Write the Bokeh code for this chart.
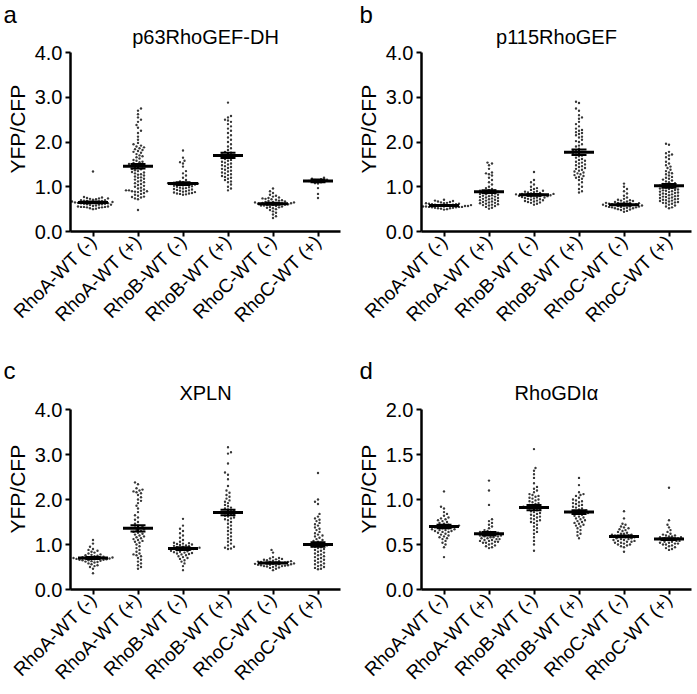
import math
from bokeh.plotting import figure
from bokeh.models import Range1d, FixedTicker, Title, PrintfTickFormatter
from bokeh.layouts import column, row
from bokeh.embed import file_html
from bokeh.resources import INLINE

categories = ["RhoA-WT (-)", "RhoA-WT (+)", "RhoB-WT (-)", "RhoB-WT (+)", "RhoC-WT (-)", "RhoC-WT (+)"]

# ---------------- panel a : p63RhoGEF-DH ----------------
a_title = "p63RhoGEF-DH"
a_A_minus = [1.34, 0.77, 0.76, 0.75, 0.74, 0.74, 0.73, 0.72, 0.71, 0.70, 0.70, 0.69, 0.68, 0.68, 0.67, 0.67, 0.66, 0.66, 0.65, 0.65, 0.64, 0.64, 0.63, 0.63, 0.62, 0.62, 0.61, 0.61, 0.60, 0.60, 0.59, 0.58, 0.57, 0.56, 0.56, 0.55, 0.55, 0.55, 0.54, 0.54, 0.53, 0.52, 0.51, 0.50]
a_A_plus = [2.75, 2.70, 2.62, 2.55, 2.50, 2.45, 2.38, 2.32, 2.25, 2.20, 2.12, 2.05, 1.98, 1.95, 1.92, 1.90, 1.88, 1.86, 1.84, 1.82, 1.80, 1.78, 1.76, 1.73, 1.70, 1.68, 1.66, 1.63, 1.60, 1.58, 1.56, 1.55, 1.53, 1.51, 1.50, 1.48, 1.47, 1.46, 1.45, 1.44, 1.42, 1.40, 1.39, 1.37, 1.35, 1.33, 1.32, 1.30, 1.28, 1.27, 1.25, 1.23, 1.21, 1.20, 1.18, 1.16, 1.14, 1.12, 1.10, 1.08, 1.06, 1.04, 1.02, 1.00, 0.98, 0.96, 0.94, 0.92, 0.92, 0.91, 0.90, 0.90, 0.89, 0.88, 0.86, 0.84, 0.82, 0.80, 0.78, 0.77, 0.76, 0.74, 0.72, 0.48]
a_B_minus = [1.81, 1.65, 1.58, 1.55, 1.52, 1.45, 1.35, 1.30, 1.25, 1.20, 1.15, 1.12, 1.10, 1.09, 1.08, 1.08, 1.07, 1.07, 1.06, 1.06, 1.05, 1.05, 1.04, 1.03, 1.02, 1.01, 1.00, 0.99, 0.98, 0.97, 0.96, 0.95, 0.94, 0.93, 0.92, 0.91, 0.90, 0.89, 0.88, 0.87, 0.86, 0.85, 0.85, 0.84, 0.83, 0.82]
a_B_plus = [2.88, 2.58, 2.55, 2.50, 2.48, 2.45, 2.40, 2.35, 2.30, 2.25, 2.20, 2.15, 2.10, 2.05, 2.00, 1.95, 1.90, 1.86, 1.82, 1.78, 1.76, 1.74, 1.72, 1.70, 1.68, 1.66, 1.64, 1.62, 1.60, 1.58, 1.56, 1.54, 1.52, 1.50, 1.48, 1.46, 1.44, 1.42, 1.40, 1.38, 1.36, 1.34, 1.32, 1.30, 1.28, 1.26, 1.24, 1.22, 1.20, 1.18, 1.15, 1.12, 1.10, 1.05, 1.00, 0.96, 0.92]
a_C_minus = [0.96, 0.90, 0.86, 0.82, 0.80, 0.78, 0.76, 0.75, 0.74, 0.73, 0.72, 0.71, 0.70, 0.69, 0.68, 0.67, 0.66, 0.66, 0.65, 0.65, 0.64, 0.64, 0.63, 0.63, 0.62, 0.62, 0.61, 0.61, 0.60, 0.60, 0.59, 0.58, 0.58, 0.57, 0.56, 0.55, 0.54, 0.53, 0.52, 0.50, 0.48, 0.45, 0.42, 0.38, 0.34, 0.30]
a_C_plus = [1.20, 1.18, 1.17, 1.16, 1.15, 1.14, 1.13, 1.12, 1.11, 1.10, 1.08, 1.07, 0.97, 0.84, 0.75]
a_mean = [0.65, 1.46, 1.07, 1.70, 0.62, 1.13]
a_sem = [0.02, 0.05, 0.03, 0.06, 0.02, 0.03]

# ---------------- panel b : p115RhoGEF ----------------
b_title = "p115RhoGEF"
b_A_minus = [0.71, 0.69, 0.68, 0.67, 0.66, 0.65, 0.64, 0.63, 0.63, 0.62, 0.62, 0.61, 0.61, 0.60, 0.60, 0.60, 0.59, 0.59, 0.59, 0.58, 0.58, 0.58, 0.57, 0.57, 0.57, 0.56, 0.56, 0.56, 0.55, 0.55, 0.55, 0.54, 0.54, 0.53, 0.53, 0.52, 0.52, 0.51, 0.50, 0.49]
b_A_plus = [1.54, 1.52, 1.48, 1.40, 1.32, 1.30, 1.28, 1.25, 1.20, 1.15, 1.10, 1.05, 1.00, 0.97, 0.95, 0.93, 0.92, 0.91, 0.90, 0.89, 0.88, 0.87, 0.86, 0.85, 0.84, 0.83, 0.82, 0.81, 0.80, 0.79, 0.78, 0.77, 0.76, 0.75, 0.74, 0.73, 0.72, 0.71, 0.70, 0.69, 0.68, 0.67, 0.66, 0.65, 0.64, 0.63, 0.62, 0.61, 0.60, 0.59, 0.58, 0.57, 0.55, 0.53, 0.51]
b_B_minus = [1.33, 1.15, 1.10, 1.05, 1.00, 0.97, 0.95, 0.93, 0.91, 0.90, 0.89, 0.88, 0.87, 0.86, 0.85, 0.84, 0.84, 0.83, 0.83, 0.82, 0.82, 0.81, 0.81, 0.80, 0.80, 0.79, 0.79, 0.78, 0.77, 0.76, 0.76, 0.75, 0.74, 0.73, 0.72, 0.71, 0.70, 0.69, 0.68, 0.67, 0.66, 0.65, 0.64, 0.62, 0.60]
b_B_plus = [2.90, 2.87, 2.75, 2.70, 2.60, 2.55, 2.52, 2.45, 2.40, 2.35, 2.30, 2.27, 2.25, 2.22, 2.20, 2.18, 2.15, 2.12, 2.10, 2.05, 2.02, 2.00, 1.95, 1.92, 1.90, 1.85, 1.82, 1.80, 1.78, 1.76, 1.74, 1.72, 1.70, 1.68, 1.65, 1.62, 1.60, 1.58, 1.56, 1.54, 1.52, 1.50, 1.48, 1.46, 1.44, 1.42, 1.40, 1.38, 1.36, 1.34, 1.32, 1.30, 1.28, 1.26, 1.24, 1.22, 1.20, 1.18, 1.15, 1.10, 1.05, 1.00, 0.95, 0.90, 0.87]
b_C_minus = [1.07, 1.00, 0.95, 0.90, 0.85, 0.80, 0.76, 0.73, 0.71, 0.70, 0.69, 0.68, 0.67, 0.66, 0.65, 0.64, 0.64, 0.63, 0.63, 0.62, 0.62, 0.61, 0.61, 0.60, 0.60, 0.59, 0.59, 0.58, 0.58, 0.57, 0.57, 0.56, 0.56, 0.55, 0.55, 0.54, 0.54, 0.53, 0.52, 0.52, 0.51, 0.50, 0.49, 0.48, 0.46, 0.44]
b_C_plus = [1.96, 1.94, 1.78, 1.75, 1.72, 1.70, 1.66, 1.62, 1.56, 1.52, 1.48, 1.45, 1.42, 1.38, 1.35, 1.32, 1.30, 1.28, 1.25, 1.22, 1.20, 1.18, 1.16, 1.14, 1.12, 1.10, 1.08, 1.06, 1.05, 1.04, 1.03, 1.02, 1.01, 1.00, 0.99, 0.98, 0.97, 0.96, 0.95, 0.94, 0.93, 0.92, 0.91, 0.90, 0.89, 0.88, 0.87, 0.86, 0.85, 0.84, 0.83, 0.82, 0.81, 0.80, 0.79, 0.78, 0.77, 0.76, 0.75, 0.74, 0.73, 0.72, 0.71, 0.70, 0.69, 0.68, 0.67, 0.66, 0.65, 0.64, 0.63, 0.62, 0.60, 0.58, 0.56, 0.54, 0.52]
b_mean = [0.58, 0.89, 0.82, 1.77, 0.60, 1.02]
b_sem = [0.01, 0.03, 0.02, 0.06, 0.02, 0.04]

# ---------------- panel c : XPLN ----------------
c_title = "XPLN"
c_A_minus = [1.10, 1.02, 0.95, 0.90, 0.88, 0.86, 0.84, 0.82, 0.80, 0.78, 0.77, 0.76, 0.75, 0.74, 0.73, 0.72, 0.72, 0.71, 0.71, 0.70, 0.70, 0.69, 0.69, 0.68, 0.68, 0.67, 0.67, 0.66, 0.66, 0.65, 0.65, 0.64, 0.63, 0.62, 0.61, 0.60, 0.58, 0.56, 0.54, 0.52, 0.50, 0.46, 0.36]
c_A_plus = [2.38, 2.34, 2.25, 2.22, 2.20, 2.18, 2.16, 2.14, 2.10, 2.05, 2.00, 1.97, 1.92, 1.86, 1.80, 1.72, 1.65, 1.60, 1.55, 1.50, 1.46, 1.42, 1.40, 1.38, 1.36, 1.34, 1.32, 1.30, 1.28, 1.26, 1.24, 1.22, 1.20, 1.18, 1.16, 1.14, 1.12, 1.10, 1.08, 1.06, 1.04, 1.00, 0.96, 0.92, 0.88, 0.84, 0.80, 0.78, 0.76, 0.74, 0.70, 0.66, 0.62, 0.58, 0.54, 0.50, 0.46]
c_B_minus = [1.57, 1.42, 1.35, 1.30, 1.25, 1.20, 1.15, 1.10, 1.06, 1.04, 1.03, 1.02, 1.01, 1.00, 0.99, 0.98, 0.97, 0.96, 0.95, 0.94, 0.93, 0.92, 0.92, 0.91, 0.91, 0.90, 0.90, 0.89, 0.88, 0.87, 0.86, 0.85, 0.84, 0.83, 0.82, 0.81, 0.80, 0.79, 0.78, 0.76, 0.74, 0.72, 0.70, 0.68, 0.65, 0.62, 0.58, 0.52, 0.43]
c_B_plus = [3.16, 3.05, 3.02, 2.80, 2.60, 2.55, 2.45, 2.30, 2.20, 2.15, 2.10, 2.06, 2.02, 1.98, 1.95, 1.92, 1.88, 1.85, 1.82, 1.80, 1.78, 1.76, 1.74, 1.72, 1.70, 1.68, 1.66, 1.64, 1.62, 1.60, 1.58, 1.56, 1.54, 1.50, 1.46, 1.42, 1.38, 1.34, 1.30, 1.26, 1.22, 1.18, 1.14, 1.10, 1.06, 1.02, 0.98, 0.95, 0.93, 0.91, 0.90]
c_C_minus = [0.88, 0.82, 0.72, 0.70, 0.69, 0.68, 0.67, 0.66, 0.65, 0.64, 0.63, 0.63, 0.62, 0.62, 0.61, 0.61, 0.60, 0.60, 0.59, 0.59, 0.58, 0.58, 0.57, 0.57, 0.56, 0.56, 0.55, 0.55, 0.54, 0.54, 0.53, 0.53, 0.52, 0.52, 0.51, 0.50, 0.49, 0.48, 0.46, 0.43]
c_C_plus = [2.59, 2.00, 1.95, 1.90, 1.68, 1.62, 1.58, 1.55, 1.52, 1.48, 1.45, 1.42, 1.38, 1.35, 1.32, 1.28, 1.25, 1.22, 1.20, 1.18, 1.15, 1.12, 1.10, 1.08, 1.06, 1.04, 1.02, 1.00, 0.99, 0.98, 0.97, 0.96, 0.95, 0.94, 0.92, 0.90, 0.88, 0.86, 0.84, 0.82, 0.80, 0.78, 0.76, 0.74, 0.72, 0.70, 0.68, 0.66, 0.64, 0.62, 0.60, 0.58, 0.56, 0.54, 0.52, 0.50, 0.48, 0.46, 0.45]
c_mean = [0.70, 1.36, 0.91, 1.71, 0.59, 1.00]
c_sem = [0.02, 0.07, 0.03, 0.06, 0.01, 0.05]

# ---------------- panel d : RhoGDIα ----------------
d_title = "RhoGDI\u03b1"
d_A_minus = [1.09, 0.92, 0.90, 0.86, 0.84, 0.82, 0.80, 0.79, 0.78, 0.77, 0.76, 0.75, 0.74, 0.73, 0.72, 0.71, 0.71, 0.70, 0.70, 0.70, 0.69, 0.69, 0.69, 0.68, 0.68, 0.67, 0.67, 0.66, 0.66, 0.65, 0.65, 0.64, 0.64, 0.63, 0.62, 0.61, 0.60, 0.59, 0.58, 0.57, 0.56, 0.54, 0.52, 0.50, 0.47, 0.36]
d_A_plus = [1.21, 1.10, 0.94, 0.78, 0.76, 0.74, 0.72, 0.70, 0.68, 0.66, 0.65, 0.64, 0.64, 0.63, 0.63, 0.62, 0.62, 0.61, 0.61, 0.60, 0.60, 0.59, 0.59, 0.58, 0.58, 0.57, 0.57, 0.56, 0.56, 0.55, 0.55, 0.54, 0.54, 0.53, 0.53, 0.52, 0.52, 0.51, 0.50, 0.49, 0.48, 0.47, 0.46]
d_B_minus = [1.56, 1.35, 1.32, 1.28, 1.24, 1.18, 1.14, 1.12, 1.10, 1.08, 1.06, 1.05, 1.04, 1.03, 1.02, 1.01, 1.00, 0.99, 0.98, 0.97, 0.96, 0.95, 0.94, 0.93, 0.92, 0.92, 0.91, 0.91, 0.90, 0.90, 0.89, 0.88, 0.87, 0.86, 0.85, 0.84, 0.83, 0.82, 0.81, 0.80, 0.79, 0.78, 0.77, 0.76, 0.75, 0.74, 0.72, 0.70, 0.68, 0.66, 0.64, 0.62, 0.58, 0.54, 0.50, 0.43]
d_B_plus = [1.24, 1.16, 1.08, 1.06, 1.05, 1.04, 1.02, 1.00, 0.99, 0.98, 0.97, 0.96, 0.95, 0.94, 0.93, 0.92, 0.91, 0.90, 0.89, 0.88, 0.87, 0.87, 0.86, 0.86, 0.85, 0.85, 0.84, 0.84, 0.83, 0.82, 0.81, 0.80, 0.79, 0.78, 0.77, 0.76, 0.75, 0.74, 0.73, 0.72, 0.71, 0.70, 0.68, 0.66, 0.64, 0.62, 0.60, 0.57]
d_C_minus = [0.87, 0.79, 0.73, 0.72, 0.70, 0.69, 0.68, 0.67, 0.66, 0.65, 0.64, 0.63, 0.62, 0.62, 0.61, 0.61, 0.60, 0.60, 0.59, 0.59, 0.58, 0.58, 0.57, 0.57, 0.56, 0.56, 0.55, 0.55, 0.54, 0.54, 0.53, 0.53, 0.52, 0.52, 0.51, 0.50, 0.50, 0.49, 0.48, 0.47, 0.42]
d_C_plus = [1.13, 0.77, 0.72, 0.69, 0.66, 0.64, 0.62, 0.61, 0.60, 0.60, 0.59, 0.59, 0.58, 0.58, 0.57, 0.57, 0.56, 0.56, 0.55, 0.55, 0.54, 0.54, 0.53, 0.53, 0.52, 0.52, 0.51, 0.51, 0.50, 0.50, 0.49, 0.48, 0.47, 0.46, 0.45, 0.44]
d_mean = [0.70, 0.62, 0.91, 0.86, 0.59, 0.56]
d_sem = [0.02, 0.02, 0.03, 0.02, 0.01, 0.01]

y_ticks_4 = [0.0, 1.0, 2.0, 3.0, 4.0]
y_ticks_2 = [0.0, 0.5, 1.0, 1.5, 2.0]
y_label = "YFP/CFP"

FONT = "Liberation Sans"


def swarm_offsets(vals, ppu_y, d=3.0):
    ys = [v * ppu_y for v in vals]
    order = sorted(range(len(vals)), key=lambda i: ys[i])
    placed = []
    offs = [0.0] * len(vals)
    step = d / 2.0
    for i in order:
        y = ys[i]
        near = [(px, py) for (px, py) in placed if abs(py - y) < d]
        m = 0
        found = None
        while found is None:
            if m == 0:
                cands = [0.0]
            elif (m + len(placed)) % 2:
                cands = [m * step, -m * step]
            else:
                cands = [-m * step, m * step]
            for c in cands:
                if all((c - px) ** 2 + (y - py) ** 2 >= d * d for px, py in near):
                    found = c
                    break
            m += 1
        offs[i] = found
        placed.append((found, y))
    return offs


def make_panel(letter, title, groups, means, sems, ymax, yticks, frame_h,
               top_row, left_col):
    frame_w = 270
    p = figure(frame_width=frame_w, frame_height=frame_h,
               x_range=Range1d(0, 6), y_range=Range1d(0, ymax),
               output_backend="svg", toolbar_location=None,
               min_border_left=(70 if left_col else 68),
               min_border_right=(11 if left_col else 8),
               min_border_top=(52 if top_row else 73),
               min_border_bottom=(104 if top_row else 98))
    p.outline_line_color = None
    p.xgrid.visible = False
    p.ygrid.visible = False
    p.background_fill_color = "white"
    p.border_fill_color = "white"

    ppu_x = frame_w / 6.0
    ppu_y = frame_h / ymax

    xs, ys = [], []
    for gi, vals in enumerate(groups):
        offs = swarm_offsets(vals, ppu_y)
        for v, o in zip(vals, offs):
            xs.append(gi + 0.5 + o / ppu_x)
            ys.append(v)
    p.scatter(xs, ys, size=2.4, color="#222222", line_width=0, alpha=0.9)

    centers = [i + 0.5 for i in range(len(means))]
    mh = 15.0 / ppu_x
    ch = 7.5 / ppu_x
    p.segment(x0=[c - mh for c in centers], x1=[c + mh for c in centers],
              y0=means, y1=means, line_color="black", line_width=3)
    lo = [m - s for m, s in zip(means, sems)]
    hi = [m + s for m, s in zip(means, sems)]
    p.segment(x0=centers, x1=centers, y0=lo, y1=hi, line_color="black", line_width=2)
    p.segment(x0=[c - ch for c in centers], x1=[c + ch for c in centers],
              y0=lo, y1=lo, line_color="black", line_width=2)
    p.segment(x0=[c - ch for c in centers], x1=[c + ch for c in centers],
              y0=hi, y1=hi, line_color="black", line_width=2)

    # axes
    for ax in (p.xaxis[0], p.yaxis[0]):
        ax.axis_line_width = 2.5
        ax.axis_line_color = "black"
        ax.major_tick_line_width = 2
        ax.major_tick_line_color = "black"
        ax.major_tick_out = 5
        ax.major_tick_in = 0
        ax.minor_tick_line_color = None
        ax.major_label_text_font = FONT
        ax.major_label_text_color = "black"
    p.yaxis.ticker = FixedTicker(ticks=yticks)
    p.yaxis.formatter = PrintfTickFormatter(format="%.1f")
    p.yaxis.major_label_text_font_size = "20px"
    p.yaxis.major_label_standoff = 3
    p.xaxis.ticker = FixedTicker(ticks=centers)
    p.xaxis.major_label_overrides = {c: categories[i] for i, c in enumerate(centers)}
    p.xaxis.major_label_orientation = math.pi / 4
    p.xaxis.major_label_text_font_size = "19px"
    p.xaxis.major_label_standoff = 2

    # outer title slot: panel letter
    p.title.text = letter
    p.title.align = "left"
    p.title.offset = -67 if left_col else -62
    p.title.standoff = -17 if top_row else -21
    p.title.text_font = FONT
    p.title.text_font_size = "24px"
    p.title.text_font_style = "normal"
    p.title.text_color = "black"
    # inner title slot (closest to frame): panel name
    p.add_layout(Title(text=title, align="center",
                       standoff=(9 if top_row else 12), text_font=FONT,
                       text_font_size="20px", text_font_style="normal",
                       text_color="black"), "above")
    # y-axis caption on the left
    p.add_layout(Title(text=y_label, align="left", offset=(58 if top_row else 56),
                       standoff=6, text_font=FONT, text_font_size="21px",
                       text_font_style="normal", text_color="black"), "left")
    return p


pa = make_panel("a", a_title, [a_A_minus, a_A_plus, a_B_minus, a_B_plus, a_C_minus, a_C_plus],
                a_mean, a_sem, 4.0, y_ticks_4, 179, True, True)
pb = make_panel("b", b_title, [b_A_minus, b_A_plus, b_B_minus, b_B_plus, b_C_minus, b_C_plus],
                b_mean, b_sem, 4.0, y_ticks_4, 179, True, False)
pc = make_panel("c", c_title, [c_A_minus, c_A_plus, c_B_minus, c_B_plus, c_C_minus, c_C_plus],
                c_mean, c_sem, 4.0, y_ticks_4, 180, False, True)
pd = make_panel("d", d_title, [d_A_minus, d_A_plus, d_B_minus, d_B_plus, d_C_minus, d_C_plus],
                d_mean, d_sem, 2.0, y_ticks_2, 180, False, False)

layout = column(row(pa, pb), row(pc, pd))
open("out.html", "w").write(file_html(layout, INLINE))
